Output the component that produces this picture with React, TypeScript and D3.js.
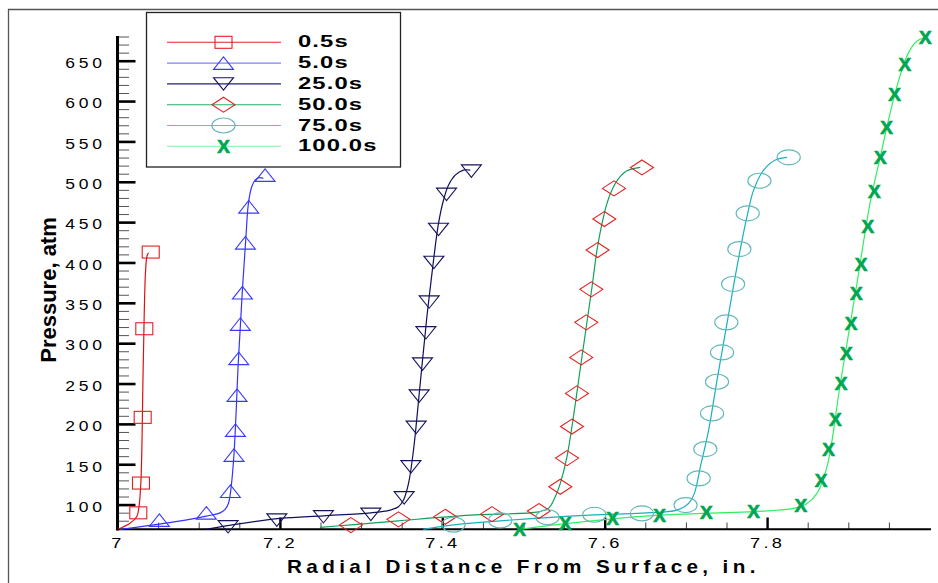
import React from "react";
import * as d3 from "d3";

// ---------- data ----------
const xTickValues = [7, 7.2, 7.4, 7.6, 7.8];
const xTickLabels = ["7", "7.2", "7.4", "7.6", "7.8"];
const yTickValues = [100, 150, 200, 250, 300, 350, 400, 450, 500, 550, 600, 650];
const yTickLabels = ["100", "150", "200", "250", "300", "350", "400", "450", "500", "550", "600", "650"];
const seriesNames = ["0.5s", "5.0s", "25.0s", "50.0s", "75.0s", "100.0s"];

// curves (x = radial distance, p = pressure)
const line05: [number, number][] = [[7.0, 70], [7.0148, 77.4], [7.023, 85.5], [7.0259, 98], [7.0283, 131], [7.0312, 280], [7.034, 391], [7.036, 409.8], [7.0377, 412.6]];
const marks05: [number, number][] = [[7.025, 90.4], [7.0283, 127.3], [7.0304, 208.7], [7.0324, 318.5], [7.0403, 413.5]];

const line5: [number, number][] = [[7.0025, 70], [7.0509, 76.4], [7.1088, 86.4], [7.1257, 90.4], [7.1319, 94.7], [7.136, 102], [7.1389, 118.6], [7.1429, 164], [7.1483, 279.7], [7.1532, 366.4], [7.1577, 434.6], [7.1606, 473.8], [7.1647, 494.4], [7.1688, 502.7], [7.1741, 505.6], [7.179, 504.9]];
const marks5: [number, number][] = [[7.0509, 81.4], [7.1088, 90.4], [7.1384, 117.3], [7.1429, 162], [7.1446, 192.9], [7.1466, 236.3], [7.1487, 281.8], [7.1507, 324.3], [7.1532, 363.1], [7.1569, 425], [7.161, 469.6], [7.1811, 508.9]];

const line25: [number, number][] = [[7.109, 70], [7.1367, 74.8], [7.1996, 83.5], [7.253, 86.7], [7.3114, 90.4], [7.3352, 93.8], [7.3454, 97.9], [7.3516, 106.2], [7.3578, 126.9], [7.3639, 168.1], [7.3722, 250.8], [7.3804, 333.3], [7.3886, 403.6], [7.3947, 449], [7.4009, 478], [7.4071, 496.5], [7.4153, 508.9], [7.4255, 515.1], [7.4338, 515.1]];
const marks25: [number, number][] = [[7.1356, 73.1], [7.1956, 81.4], [7.253, 85.5], [7.3114, 88.5], [7.3524, 109], [7.3607, 147.4], [7.3672, 196.3], [7.3709, 235.1], [7.375, 274.7], [7.3792, 313.5], [7.3832, 351.6], [7.389, 400.7], [7.3947, 441.6], [7.4046, 485], [7.4352, 513.9]];

const line50: [number, number][] = [[7.249, 72.5], [7.2868, 75.5], [7.3454, 80.5], [7.4338, 87.5], [7.5179, 91.7], [7.5302, 95.9], [7.5385, 110.3], [7.5447, 126.9], [7.5529, 159.8], [7.5714, 283.8], [7.5838, 370.5], [7.5899, 416], [7.5961, 449], [7.6022, 473.8], [7.6083, 490.3], [7.6166, 504.8], [7.6268, 514.3], [7.6432, 518.5]];
const marks50: [number, number][] = [[7.2868, 75.2], [7.3454, 82.3], [7.403, 85.5], [7.4605, 88.8], [7.5183, 92.6], [7.5447, 122.7], [7.553, 158.2], [7.5591, 197.3], [7.5652, 238.4], [7.5705, 283], [7.5767, 326.4], [7.5829, 367.3], [7.5906, 416], [7.5989, 454.4], [7.6108, 492.4], [7.6453, 518.4]];

const line75: [number, number][] = [[7.376, 70], [7.4132, 75.5], [7.4707, 80.5], [7.529, 84.5], [7.5866, 87.8], [7.6452, 90], [7.6883, 93.8], [7.7026, 102], [7.7098, 114.5], [7.7172, 147.4], [7.7274, 192.9], [7.7377, 254.9], [7.75, 325.2], [7.7623, 395.3], [7.7746, 457.3], [7.7828, 490.3], [7.7951, 515.1], [7.8096, 527.5], [7.8239, 530.8]];
const marks75: [number, number][] = [[7.4132, 75.8], [7.4707, 81], [7.529, 84.9], [7.5866, 88.1], [7.6452, 89.7], [7.699, 100], [7.7151, 133.1], [7.7233, 169.4], [7.7316, 213.6], [7.7377, 252.8], [7.7439, 289.2], [7.7492, 326.4], [7.7575, 373.9], [7.7652, 417.2], [7.7755, 461.5], [7.7899, 501.9], [7.826, 530.9]];

const line100: [number, number][] = [[7.495, 70], [7.5508, 77], [7.6091, 83], [7.667, 87.5], [7.7246, 90], [7.7829, 92], [7.8321, 95.9], [7.8485, 102], [7.8608, 114.5], [7.8731, 147.4], [7.8897, 251.3], [7.9102, 375.7], [7.9267, 477], [7.939, 532.4], [7.9513, 587.6], [7.9636, 633.7], [7.9739, 661.3], [7.9841, 675.1], [7.9945, 679.7]];
const marks100: [number, number][] = [[7.4945, 70], [7.5508, 77.3], [7.6091, 83.5], [7.667, 87.6], [7.7246, 90.4], [7.7829, 91.7], [7.841, 99], [7.8658, 130.6], [7.8752, 168.4], [7.8835, 206.2], [7.8905, 251.3], [7.897, 288.1], [7.9028, 325], [7.9094, 361.8], [7.9151, 397.8], [7.9233, 444.7], [7.9315, 488.6], [7.939, 530.6], [7.9464, 568.3], [7.9565, 608.3], [7.9689, 646.1], [7.9944, 679.7]];

const seriesLines = [line05, line5, line25, line50, line75, line100];
const seriesMarks = [marks05, marks5, marks25, marks50, marks75, marks100];
const lineColors = ["#e01010", "#3333ff", "#10105e", "#10a058", "#18b0c0", "#30f060"];
const legendLineColors = ["#e42020", "#8080ff", "#202070", "#20b068", "#60c0c8", "#80f0a0"];
const markColors = ["#e02020", "#3a3aff", "#14145e", "#e42020", "#60b8b8", "#00a651"];
const markTypes = ["square", "tri-up", "tri-down", "diamond", "circle", "x"];

// ---------- layout ----------
const W = 938;
const H = 583;
const FONT = "'Liberation Sans', Arial, Helvetica, sans-serif";
const x = d3.scaleLinear().domain([7, 8]).range([118, 930]);
const y = d3.scaleLinear().domain([70, 680]).range([529.3, 37]);

function SText(props: any) {
  const { x: tx, y: ty, sx = 1, ls = 0, anchor = "start", size, weight = "normal", fill = "#000", children } = props;
  return (
    <text
      transform={`translate(${tx},${ty}) scale(${sx},1)`}
      textAnchor={anchor}
      fontFamily={FONT}
      fontSize={size}
      fontWeight={weight}
      letterSpacing={ls}
      fill={fill}
    >
      {children}
    </text>
  );
}

function Marker({ type, cx, cy, color }: { type: string; cx: number; cy: number; color: string }) {
  const sw = 1.1;
  if (type === "square") {
    return <rect x={cx - 8.5} y={cy - 6} width={17} height={12} fill="none" stroke={color} strokeWidth={sw} />;
  }
  if (type === "tri-up") {
    const w = 10, h = 6.3;
    return <path d={`M${cx},${cy - h}L${cx + w},${cy + h}L${cx - w},${cy + h}Z`} fill="none" stroke={color} strokeWidth={sw} />;
  }
  if (type === "tri-down") {
    const w = 10, h = 6.2;
    return <path d={`M${cx - w},${cy - h}L${cx + w},${cy - h}L${cx},${cy + h}Z`} fill="none" stroke={color} strokeWidth={sw} />;
  }
  if (type === "diamond") {
    const w = 11.5, h = 7.5;
    return <path d={`M${cx},${cy - h}L${cx + w},${cy}L${cx},${cy + h}L${cx - w},${cy}Z`} fill="none" stroke={color} strokeWidth={sw} />;
  }
  if (type === "circle") {
    return <ellipse cx={cx} cy={cy} rx={11.6} ry={7.5} fill="none" stroke={color} strokeWidth={sw} />;
  }
  return (
    <text
      x={cx}
      y={cy + 6.6}
      textAnchor="middle"
      fontFamily={FONT}
      fontWeight="bold"
      fontSize={19}
      fill={color}
      stroke={color}
      strokeWidth={0.7}
    >
      X
    </text>
  );
}

export default function App() {
  const lineGen = d3
    .line<[number, number]>()
    .x((d) => x(d[0]))
    .y((d) => y(d[1]))
    .curve(d3.curveCatmullRom.alpha(0.5));

  const xMinor = d3.range(7.05, 7.999, 0.05).filter((v) => Math.abs(v * 5 - Math.round(v * 5)) > 1e-6);
  const yMinor = d3.range(70, 681, 10).filter((v) => v % 50 !== 0);

  const legendRowY = (i: number) => 42.3 + i * 20.8;

  return (
    <svg width={W} height={H} style={{ position: "absolute", left: 0, top: 0, background: "#fff" }}>
      <rect x={0} y={0} width={W} height={H} fill="#fff" />
      {/* page frame */}
      <line x1={8} y1={9.5} x2={W} y2={9.5} stroke="#555" strokeWidth={1.3} />
      <line x1={8.5} y1={9} x2={8.5} y2={H} stroke="#555" strokeWidth={1.3} />

      {/* y minor ticks */}
      {yMinor.map((v) => (
        <line key={"ym" + v} x1={118} x2={129} y1={y(v)} y2={y(v)} stroke="#555" strokeWidth={1} />
      ))}
      {/* y major ticks */}
      {yTickValues.map((v) => (
        <line key={"yM" + v} x1={118} x2={135.5} y1={y(v)} y2={y(v)} stroke="#000" strokeWidth={2.6} />
      ))}
      {/* x minor ticks */}
      {xMinor.map((v) => (
        <line key={"xm" + v} x1={x(v)} x2={x(v)} y1={529.3} y2={522.5} stroke="#444" strokeWidth={1} />
      ))}
      {/* x major ticks */}
      {xTickValues.slice(1).map((v) => (
        <line key={"xM" + v} x1={x(v)} x2={x(v)} y1={529.3} y2={517.5} stroke="#000" strokeWidth={2.4} />
      ))}
      {/* axis lines */}
      <line x1={117} x2={931} y1={529.3} y2={529.3} stroke="#000" strokeWidth={2} />
      <line x1={117.5} x2={117.5} y1={36} y2={530.5} stroke="#000" strokeWidth={3} />

      {/* y tick labels */}
      {yTickValues.map((v, i) => (
        <SText key={"yl" + v} x={102 + 3.7} y={y(v) + 6.8} sx={1.25} ls={3} anchor="end" size={14}>
          {yTickLabels[i]}
        </SText>
      ))}
      {/* x tick labels */}
      {xTickValues.map((v, i) => (
        <SText key={"xl" + v} x={x(v)} y={548} sx={1.3} ls={2.5} anchor="middle" size={14}>
          {xTickLabels[i]}
        </SText>
      ))}

      {/* axis titles */}
      <SText x={287} y={573} sx={1.15} ls={3.8} size={18} weight="bold">
        Radial Distance From Surface, in.
      </SText>
      <text
        transform="translate(56,290) rotate(-90)"
        textAnchor="middle"
        fontFamily={FONT}
        fontSize={22}
        fontWeight="bold"
      >
        Pressure, atm
      </text>

      {/* series */}
      {seriesLines.map((pts, i) => (
        <path key={"l" + i} d={lineGen(pts) || ""} fill="none" stroke={lineColors[i]} strokeWidth={1.2} />
      ))}
      {seriesMarks.map((pts, i) =>
        pts.map((p, j) => (
          <Marker key={"m" + i + "_" + j} type={markTypes[i]} cx={x(p[0])} cy={y(p[1])} color={markColors[i]} />
        ))
      )}

      {/* legend */}
      <rect x={146.5} y={12.5} width={254} height={154.5} fill="#fff" stroke="#222" strokeWidth={1.3} />
      {seriesNames.map((name, i) => (
        <g key={"lg" + i}>
          <line x1={167} x2={281} y1={legendRowY(i)} y2={legendRowY(i)} stroke={legendLineColors[i]} strokeWidth={1.1} />
          <Marker type={markTypes[i]} cx={223.5} cy={legendRowY(i)} color={markColors[i]} />
          <SText x={298} y={legendRowY(i) + 5} sx={1.4} ls={0.8} size={17} weight="bold">
            {name}
          </SText>
        </g>
      ))}
    </svg>
  );
}
